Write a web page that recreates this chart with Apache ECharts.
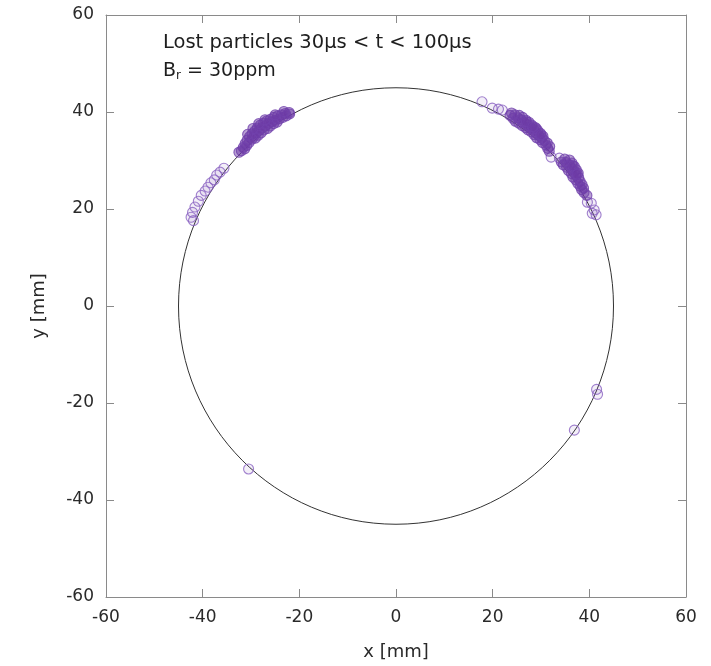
<!DOCTYPE html>
<html>
<head>
<meta charset="utf-8">
<script src="https://cdn.jsdelivr.net/npm/echarts@6/dist/echarts.min.js"></script>
<style>
  html, body { margin: 0; padding: 0; background: #fff; }
  #chart { width: 711px; height: 666px; }
</style>
</head>
<body>
<div id="chart"></div>
<script>
// axis ticks
var xTicks = [-60, -40, -20, 0, 20, 40, 60];
var yTicks = [-60, -40, -20, 0, 20, 40, 60];

// aperture circle: [cx, cy, radius] in mm
var apertureCircle = [[0, 0, 45]];

// lost particle positions [x, y] in mm
var upperLeftDense = [
  [-22.1, 39.9], [-22.0, 39.6], [-22.9, 39.7], [-22.7, 39.2], [-23.7, 39.4], [-23.4, 38.9],
  [-24.5, 39.2], [-24.1, 38.6], [-25.3, 38.9], [-24.9, 38.3], [-24.6, 37.9], [-26.0, 38.5],
  [-25.6, 38.0], [-25.3, 37.6], [-26.7, 38.2], [-26.4, 37.7], [-26.0, 37.1], [-27.4, 37.7],
  [-27.0, 37.1], [-26.6, 36.6], [-28.1, 37.3], [-27.7, 36.8], [-27.3, 36.3], [-28.7, 36.7],
  [-28.3, 36.2], [-27.9, 35.7], [-29.2, 36.1], [-28.9, 35.7], [-28.5, 35.2], [-29.8, 35.5],
  [-29.4, 35.0], [-29.1, 34.6], [-30.3, 34.9], [-29.8, 34.4], [-30.8, 34.2], [-30.4, 33.7],
  [-31.2, 33.5], [-30.9, 33.1], [-31.6, 32.7], [-31.3, 32.4], [-32.0, 32.0], [-32.5, 31.7],
  [-27.1, 38.4], [-28.4, 37.6], [-29.6, 36.6], [-30.7, 35.4], [-25.0, 39.4], [-23.2, 40.1]
];
var upperRightDense1 = [
  [23.6, 39.3], [23.9, 39.8], [24.2, 38.7], [24.6, 39.4], [24.7, 38.1], [25.2, 38.8],
  [25.5, 39.3], [25.4, 37.7], [25.9, 38.4], [26.2, 38.9], [26.1, 37.2], [26.5, 37.8],
  [26.9, 38.3], [26.8, 36.8], [27.2, 37.4], [27.5, 37.9], [27.3, 36.3], [27.8, 36.8],
  [28.1, 37.3], [28.0, 35.9], [28.5, 36.4], [28.8, 36.8], [28.6, 35.3], [28.9, 35.7],
  [29.3, 36.2], [29.1, 34.7], [29.5, 35.2], [29.9, 35.6], [29.8, 34.3], [30.2, 34.7],
  [30.4, 35.0], [30.3, 33.7], [30.7, 34.1], [31.0, 33.2], [31.3, 33.6], [31.4, 32.5],
  [31.8, 32.9], [31.7, 31.9], [29.0, 36.6], [30.0, 35.3], [27.0, 38.0], [28.3, 37.0]
];
var upperRightDense2 = [
  [34.2, 29.7], [34.9, 30.3], [34.6, 29.1], [35.2, 29.6], [35.9, 30.1], [35.3, 28.6],
  [35.9, 29.1], [36.4, 29.5], [35.7, 27.9], [36.3, 28.4], [36.9, 28.8], [36.3, 27.3],
  [36.9, 27.8], [37.3, 28.1], [36.6, 26.6], [37.2, 27.0], [37.7, 27.4], [37.2, 26.0],
  [37.8, 26.5], [37.6, 25.3], [38.1, 25.7], [38.1, 24.7], [38.5, 25.0], [38.4, 24.0],
  [38.8, 24.3], [38.9, 23.4], [39.5, 22.8], [36.6, 28.9], [37.5, 27.2]
];
var upperLeftSparse = [
  [-35.6, 28.4], [-36.4, 27.6], [-37.1, 27.0], [-37.6, 26.0], [-38.3, 25.4], [-38.9, 24.5],
  [-39.5, 23.7], [-40.3, 22.8], [-40.9, 21.6], [-41.6, 20.4], [-42.1, 19.3], [-42.4, 18.3],
  [-41.9, 17.6]
];
var upperRightSparse = [
  [17.8, 42.1], [19.9, 40.8], [21.2, 40.6], [22.0, 40.4], [32.1, 30.7], [33.8, 30.5],
  [39.6, 21.4], [40.4, 21.2], [41.0, 19.8], [41.4, 18.8], [40.6, 19.1]
];
var lowerPoints = [
  [41.5, -17.2], [41.7, -18.2], [36.9, -25.6], [-30.5, -33.6]
];

var denseParticles = [].concat(upperLeftDense, upperRightDense1, upperRightDense2);
var sparseParticles = [].concat(upperLeftSparse, upperRightSparse, lowerPoints);

var chart = echarts.init(document.getElementById('chart'));

var frameColor = '#8a8a8a';
var fontName = 'DejaVu Sans';

function frameAxis(pos, showLabel, name) {
  return {
    type: 'value',
    position: pos,
    min: -60,
    max: 60,
    interval: 20,
    name: name || '',
    splitLine: { show: false },
    axisLine: { show: true, onZero: false, lineStyle: { color: frameColor, width: 1 } },
    axisTick: { show: true, inside: true, length: 8, lineStyle: { color: frameColor } },
    axisLabel: { show: showLabel, margin: 12, color: '#2a2a2a', fontSize: 17, fontFamily: fontName }
  };
}

var xBottom = frameAxis('bottom', true, 'x [mm]');
xBottom.nameLocation = 'middle';
xBottom.nameGap = 46;
xBottom.nameTextStyle = { color: '#2a2a2a', fontSize: 18, fontFamily: fontName };
var xTop = frameAxis('top', false);

var yLeft = frameAxis('left', true, 'y [mm]');
yLeft.nameLocation = 'middle';
yLeft.nameGap = 58;
yLeft.nameRotate = 90;
yLeft.nameTextStyle = { color: '#2a2a2a', fontSize: 18, fontFamily: fontName };
var yRight = frameAxis('right', false);

chart.setOption({
  animation: false,
  backgroundColor: '#fff',
  grid: { left: 106, right: 25, top: 15, bottom: 69 },
  xAxis: [xBottom, xTop],
  yAxis: [yLeft, yRight],
  graphic: [{
    type: 'text',
    left: 163,
    top: 33,
    style: {
      text: 'Lost particles 30µs < t < 100µs',
      fill: '#1e1e1e',
      font: '19.5px "DejaVu Sans"'
    }
  }, {
    type: 'text',
    left: 163,
    top: 62,
    style: {
      text: '{b|B}{s|r}{b| = 30ppm}',
      rich: {
        b: { fill: '#1e1e1e', fontSize: 19, fontFamily: fontName },
        s: { fill: '#1e1e1e', fontSize: 12, fontFamily: fontName, verticalAlign: 'bottom', padding: [8, 0, 0, 0] }
      }
    }
  }],
  series: [{
    type: 'custom',
    xAxisIndex: 0,
    yAxisIndex: 0,
    clip: false,
    silent: true,
    z: 1,
    data: apertureCircle,
    renderItem: function (params, api) {
      var c = api.coord([api.value(0), api.value(1)]);
      var s = api.size([api.value(2), api.value(2)]);
      return {
        type: 'ellipse',
        shape: { cx: c[0], cy: c[1], rx: s[0], ry: s[1] },
        style: { fill: 'none', stroke: '#333', lineWidth: 1 }
      };
    }
  }, {
    type: 'scatter',
    xAxisIndex: 0,
    yAxisIndex: 0,
    z: 2,
    symbol: 'circle',
    symbolSize: 10,
    itemStyle: {
      color: 'rgba(112,62,168,0.1)',
      borderColor: '#8a62c2',
      borderWidth: 1.1
    },
    data: sparseParticles
  }, {
    type: 'scatter',
    xAxisIndex: 0,
    yAxisIndex: 0,
    z: 3,
    symbol: 'circle',
    symbolSize: 10,
    itemStyle: {
      color: 'rgba(108,58,166,0.6)',
      borderColor: '#7242ad',
      borderWidth: 1.1
    },
    data: denseParticles
  }]
});
</script>
</body>
</html>
